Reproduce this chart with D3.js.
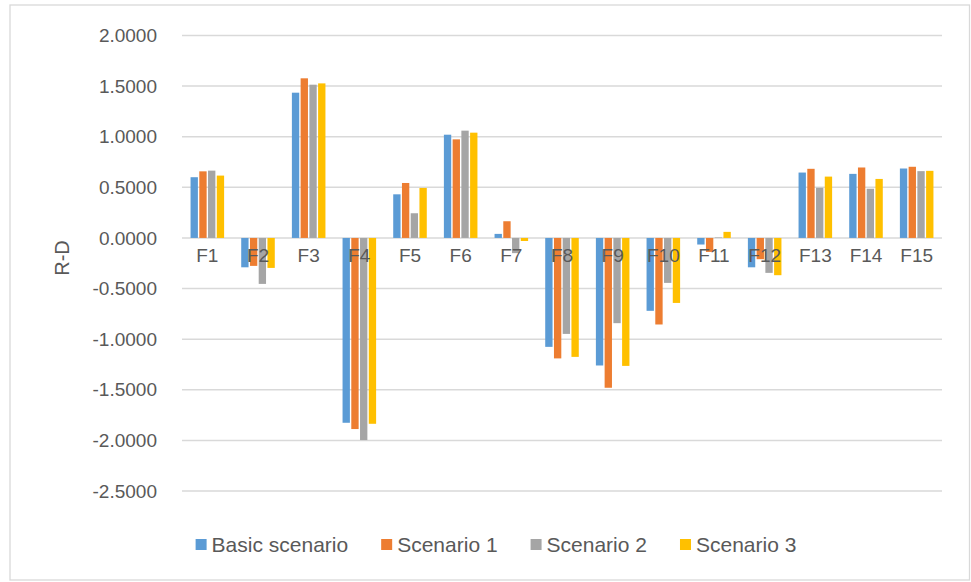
<!DOCTYPE html>
<html>
<head>
<meta charset="utf-8">
<script src="https://cdn.jsdelivr.net/npm/d3@7"></script>
<style>
  html, body { margin: 0; padding: 0; background: #fff; }
  svg { display: block; }
  text { font-family: "Liberation Sans", Arial, sans-serif; fill: #595959; }
</style>
</head>
<body>
<svg id="chart" width="971" height="582"></svg>
<script>
const categories = ["F1","F2","F3","F4","F5","F6","F7","F8","F9","F10","F11","F12","F13","F14","F15"];
const seriesNames = ["Basic scenario","Scenario 1","Scenario 2","Scenario 3"];
const basicScenario = [0.600, -0.290, 1.435, -1.826, 0.431, 1.020, 0.040, -1.076, -1.260, -0.720, -0.065, -0.290, 0.646, 0.633, 0.686];
const scenario1     = [0.658, -0.276, 1.577, -1.888, 0.543, 0.974, 0.165, -1.190, -1.480, -0.855, -0.138, -0.210, 0.683, 0.696, 0.703];
const scenario2     = [0.665, -0.454, 1.514, -1.997, 0.244, 1.060, -0.150, -0.948, -0.842, -0.444, 0.005, -0.345, 0.496, 0.486, 0.660];
const scenario3     = [0.616, -0.296, 1.527, -1.836, 0.494, 1.040, -0.030, -1.175, -1.264, -0.642, 0.060, -0.368, 0.606, 0.583, 0.663];
const yTicks = [2.0, 1.5, 1.0, 0.5, 0.0, -0.5, -1.0, -1.5, -2.0, -2.5];
const colors = ["#5B9BD5", "#ED7D31", "#A5A5A5", "#FFC000"];
const allSeries = [basicScenario, scenario1, scenario2, scenario3];

const svg = d3.select("#chart");
const plot = { left: 182, right: 942, top: 35.5, bottom: 491 };

// outer border
svg.append("rect").attr("x", 10).attr("y", 5).attr("width", 959.5).attr("height", 575)
  .attr("fill", "#fff").attr("stroke", "#D9D9D9").attr("stroke-width", 1.3);

const y = d3.scaleLinear().domain([-2.5, 2]).range([plot.bottom, plot.top]);
const x0 = d3.scaleBand().domain(categories).range([plot.left, plot.right]).paddingInner(0.31).paddingOuter(0.155);
const x1 = d3.scaleBand().domain(d3.range(seriesNames.length)).range([0, x0.bandwidth()]);

// gridlines
svg.append("g").selectAll("line").data(yTicks).join("line")
  .attr("x1", plot.left).attr("x2", plot.right)
  .attr("y1", d => y(d)).attr("y2", d => y(d))
  .attr("stroke", "#D9D9D9").attr("stroke-width", 1.5);

// y tick labels (hyphen-minus like the original)
const fmt = d3.format(".4f");
const yAxis = d3.axisLeft(y).tickValues(yTicks).tickFormat(d => fmt(d).replace("\u2212", "-")).tickSize(0).tickPadding(0);
const ya = svg.append("g").attr("transform", "translate(157,0)").call(yAxis);
ya.select(".domain").remove();
ya.selectAll("text").attr("font-size", 19).attr("fill", "#595959")
  .style("font-family", '"Liberation Sans", Arial, sans-serif');

// bars
const groups = svg.append("g").selectAll("g").data(categories).join("g")
  .attr("transform", d => `translate(${x0(d)},0)`);
groups.selectAll("rect").data((c, i) => allSeries.map((s, k) => ({ k, v: s[i] }))).join("rect")
  .attr("x", d => x1(d.k) + 0.7)
  .attr("width", x1.bandwidth() - 1.4)
  .attr("y", d => Math.min(y(d.v), y(0)))
  .attr("height", d => Math.abs(y(d.v) - y(0)))
  .attr("fill", d => colors[d.k]);

// category labels
const xAxis = d3.axisBottom(x0).tickSize(0).tickPadding(0);
const xa = svg.append("g").attr("transform", `translate(0,${y(0) + 24})`).call(xAxis);
xa.select(".domain").remove();
xa.selectAll("text").attr("font-size", 19).attr("fill", "#595959").attr("dy", 0)
  .style("font-family", '"Liberation Sans", Arial, sans-serif');

// y title
svg.append("text").attr("transform", "translate(69,258) rotate(-90)")
  .attr("text-anchor", "middle").attr("font-size", 20).text("R-D");

// legend, centred in the chart area
const legend = svg.append("g");
const sq = 11, sqGap = 5, itemGap = 33, legendCenter = 496;
let lx = 0;
seriesNames.forEach((name, k) => {
  legend.append("rect").attr("x", lx).attr("y", 539).attr("width", sq).attr("height", sq).attr("fill", colors[k]);
  const t = legend.append("text").attr("x", lx + sq + sqGap).attr("y", 552).attr("font-size", 21).text(name);
  lx += sq + sqGap + t.node().getComputedTextLength() + itemGap;
});
const totalW = lx - itemGap;
legend.attr("transform", `translate(${legendCenter - totalW / 2},0)`);
</script>
</body>
</html>
